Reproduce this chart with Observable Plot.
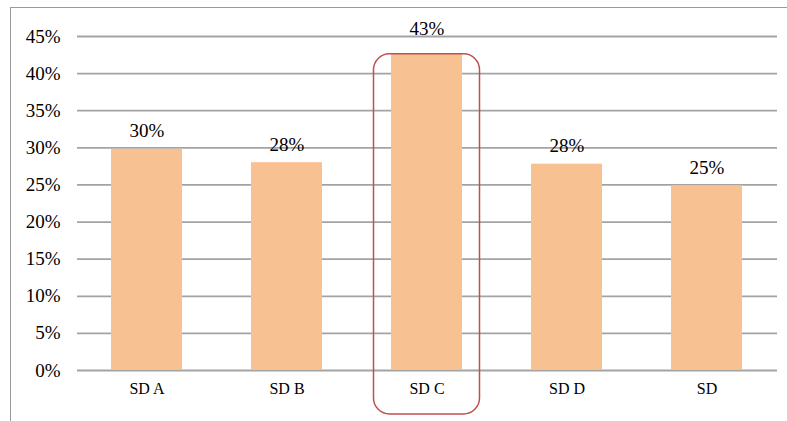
<!DOCTYPE html>
<html>
<head>
<meta charset="utf-8">
<script src="https://cdn.jsdelivr.net/npm/d3@7"></script>
<script src="https://cdn.jsdelivr.net/npm/@observablehq/plot@0.6"></script>
<style>
  html, body { margin: 0; padding: 0; background: #fff; }
  #frame {
    position: absolute; left: 10px; top: 7px;
    width: 777px; height: 414px;
    border-left: 1px solid #9a9a9a; border-top: 1.5px solid #9a9a9a;
    box-sizing: border-box;
  }
  #chart { position: absolute; left: 11px; top: 8px; }
</style>
</head>
<body>
<div id="frame"></div>
<div id="chart"></div>
<script>
const categories = ["SD A", "SD B", "SD C", "SD D", "SD"];
const values = [29.8, 28.0, 42.6, 27.8, 24.9];
const highlight = "SD C";
const yTicks = [0, 5, 10, 15, 20, 25, 30, 35, 40, 45];

const data = categories.map((c, i) => ({cat: c, v: values[i]}));
const fmt = d => d3.format(".0f")(d) + "%";

const chart = Plot.plot({
  width: 776,
  height: 413,
  marginLeft: 66,
  marginRight: 10,
  marginTop: 28,
  marginBottom: 51,
  style: {fontFamily: "'Liberation Serif', 'Times New Roman', serif", color: "#000", background: "transparent", overflow: "visible"},
  x: {domain: categories, paddingInner: 0.49, paddingOuter: 0.245},
  y: {domain: [0, 45]},
  marks: [
    Plot.ruleY(yTicks, {stroke: "#a3a3a3", strokeWidth: 1.8}),
    Plot.barY(data, {x: "cat", y: "v", fill: "#F8C191"}),
    Plot.barY(data.filter(d => d.cat === highlight), {
      x: "cat", y: "v", fill: "none", stroke: "#C0504D", strokeWidth: 1.5,
      insetLeft: -17.5, insetRight: -17.5, insetBottom: -44, rx: 16
    }),
    Plot.text(data.filter(d => d.cat !== highlight), {x: "cat", y: "v", text: d => fmt(d.v), dy: -18, fontSize: 19, fill: "#000"}),
    Plot.text(data.filter(d => d.cat === highlight), {x: "cat", y: "v", text: d => fmt(d.v), dy: -25, fontSize: 19, fill: "#000"}),
    Plot.axisY({ticks: yTicks, tickSize: 0, tickPadding: 17, tickFormat: d => d + "%", fontSize: 19, label: null}),
    Plot.axisX({tickSize: 0, tickPadding: 12, fontSize: 16, label: null})
  ]
});
document.getElementById("chart").appendChild(chart);
</script>
</body>
</html>
